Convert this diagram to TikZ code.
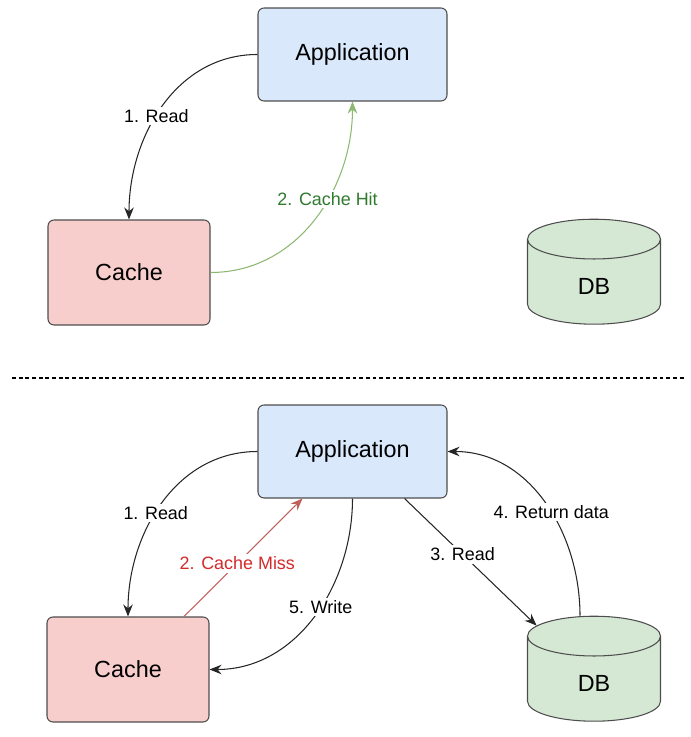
\documentclass[tikz,border=0pt]{standalone}
\usepackage{fontspec}
\setmainfont{Liberation Sans}
\usepackage{xcolor}
\usetikzlibrary{arrows.meta,shapes.geometric}
\definecolor{appfill}{HTML}{DAE8FC}
\definecolor{cachefill}{HTML}{F8CECC}
\definecolor{dbfill}{HTML}{D5E8D4}
\definecolor{rim}{HTML}{4D4D4D}
\definecolor{hitline}{HTML}{8DB872}
\definecolor{hittext}{HTML}{2F7A2F}
\definecolor{missline}{HTML}{C0605C}
\definecolor{misstext}{HTML}{D42A2A}
\tikzset{
    box/.style={draw=rim, rounded corners=1.2mm, line width=0.6pt, font=\fontsize{13.3}{16}\selectfont},
    appbox/.style={box, fill=appfill, minimum width=37.8mm, minimum height=18.6mm},
    cachebox/.style={box, fill=cachefill, minimum width=32.4mm, minimum height=21mm},
    store/.style={draw=rim, fill=dbfill, line width=0.6pt, cylinder, shape border rotate=90, aspect=0.9,
      minimum width=26.6mm, minimum height=21mm, font=\fontsize{13.3}{16}\selectfont},
    lbl/.style={fill=white, inner sep=1.5pt, font=\fontsize{10.2}{12}\selectfont},
    flow/.style={draw=black!85, line width=0.6pt, -{Stealth[length=2.4mm,width=1.9mm]}}
}
\begin{document}
\begin{tikzpicture}[x=0.02cm,y=0.02cm]
\useasboundingbox (0,0) rectangle (690,737);

% top half: cache hit
\node[appbox] (app1) at (352.5,682.5) {Application};
\node[cachebox] (cache1) at (129,464.5) {Cache};
\node[store] (db1) at (594,451) {DB};

\draw[flow] (app1.west) to[out=180,in=90] node[lbl,pos=0.55] {1. Read} (cache1.north);
\draw[flow, draw=hitline] (cache1.east) to[out=0,in=-90]
    node[lbl,pos=0.6,text=hittext] {2. Cache Hit} (app1.south);

% separator
\coordinate (sepL) at (12,359);
\coordinate (sepR) at (685,359);
\draw[dashed, line width=0.6pt, dash pattern=on 2.2pt off 1.6pt] (sepL)--(sepR);

% bottom half: cache miss
\node[appbox] (app2) at (352.5,285.5) {Application};
\node[cachebox] (cache2) at (128,67.5) {Cache};
\node[store] (db2) at (594,54) {DB};

\draw[flow] (app2.west) to[out=180,in=90] node[lbl,pos=0.55] {1. Read} (cache2.north);
\draw[flow, draw=missline] ([xshift=11.2mm]cache2.north) --
    node[lbl,pos=0.45,text=misstext] {2. Cache Miss} ([xshift=-10mm]app2.south);
\draw[flow] ([xshift=-8.6mm]app2.south east) -- node[lbl,pos=0.44] {3. Read} (db2.135);
\draw[flow] ([xshift=-2.8mm]db2.north) to[out=90,in=0] node[lbl,pos=0.45] {4. Return data} (app2.east);
\draw[flow] (app2.south) to[out=-90,in=0] node[lbl,pos=0.45] {5. Write} (cache2.east);
\end{tikzpicture}
\end{document}
